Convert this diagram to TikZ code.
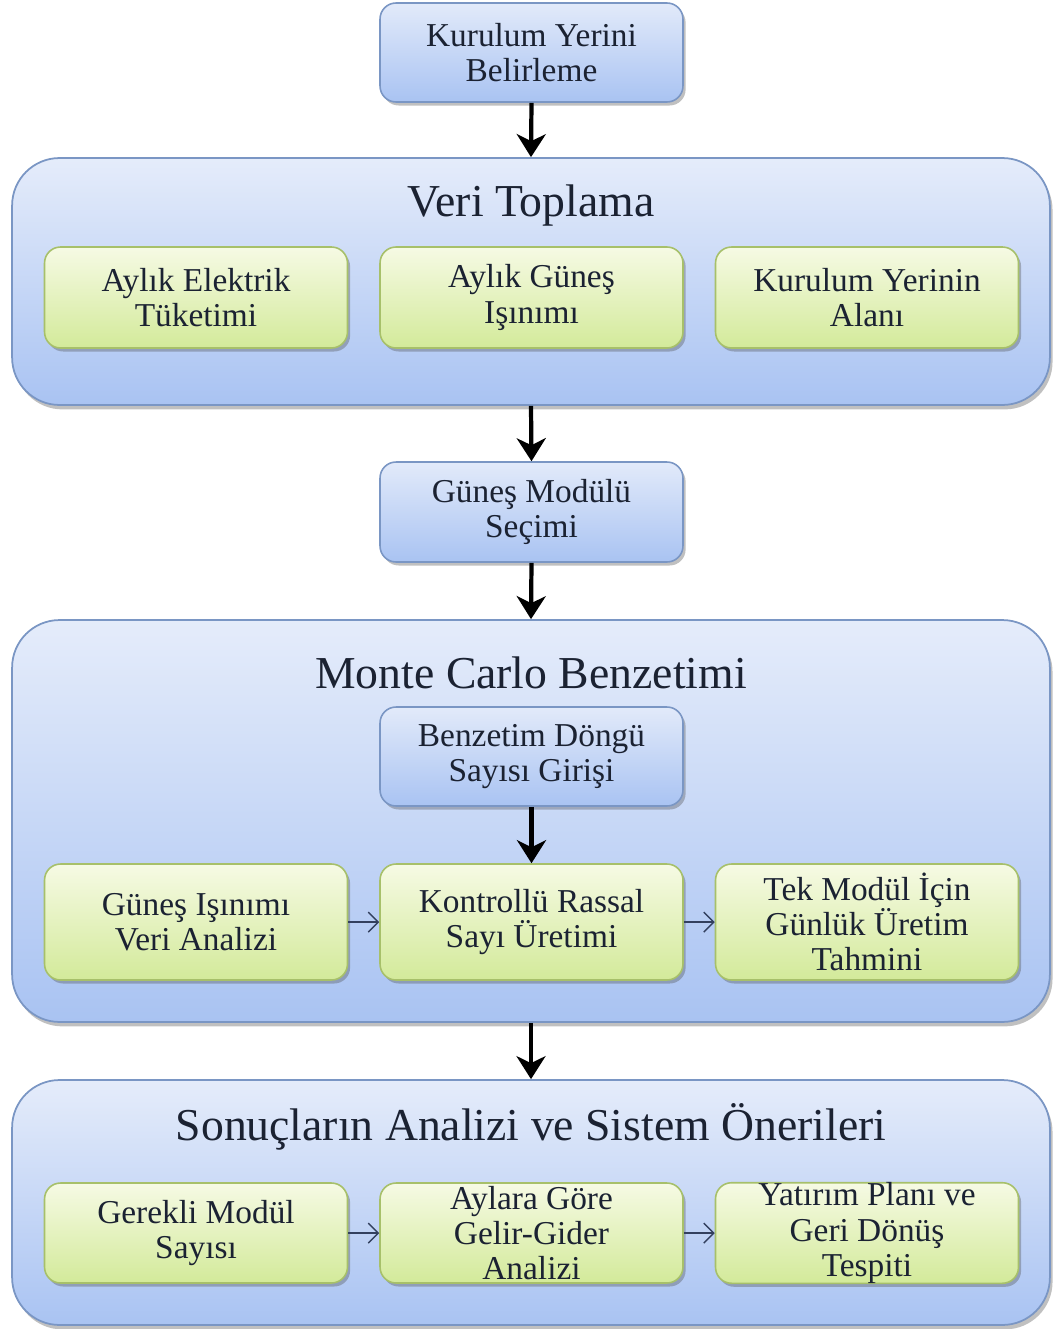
\documentclass[tikz,border=0pt]{standalone}
\usepackage{fontspec}
\setmainfont{Liberation Serif}
\usetikzlibrary{arrows.meta,shadows}
\definecolor{btop}{HTML}{E2EAFA}
\definecolor{bbot}{HTML}{A9C3F2}
\definecolor{bline}{HTML}{7A96C4}
\definecolor{gtop}{HTML}{F6FAE4}
\definecolor{gbot}{HTML}{D3EA9A}
\definecolor{gline}{HTML}{A7C06A}
\definecolor{txt}{HTML}{1B2232}
\definecolor{sarr}{HTML}{33405E}
\tikzset{
  boxbase/.style={rectangle, draw, line width=0.9pt, text=txt, align=center,
    font=\fontsize{19}{20}\selectfont, inner sep=0pt,
    drop shadow={shadow xshift=1.5pt, shadow yshift=-2pt, opacity=0.35, fill=black!70}},
  bluebox/.style={boxbase, draw=bline, top color=btop, bottom color=bbot, rounded corners=0.32cm},
  greenbox/.style={boxbase, draw=gline, top color=gtop, bottom color=gbot, rounded corners=0.32cm},
  bigbox/.style={rectangle, draw=bline, line width=1pt, top color=btop!90!white, bottom color=bbot,
    rounded corners=0.95cm, minimum width=20.76cm,
    drop shadow={shadow xshift=1.5pt, shadow yshift=-2.5pt, opacity=0.35, fill=black!70}},
  titletext/.style={text=txt, font=\fontsize{26}{28}\selectfont, inner sep=0pt},
  bigarrow/.style={line width=2.4pt, -{Stealth[length=0.46cm, width=0.58cm, inset=0.14cm]}},
  smallarrow/.style={draw=sarr, line width=0.8pt, -{Straight Barb[length=0.2cm, width=0.4cm]}},
  mw/.style={minimum width=6.06cm},
}
\begin{document}
\begin{tikzpicture}[x=0.02cm, y=-0.02cm]
\useasboundingbox (0,0) rectangle (1052,1329);
\fill[white] (0,0) rectangle (1052,1329);

% top box
\node[bluebox, mw, minimum height=1.98cm] (kur) at (531.5,52.5) {Kurulum Yerini\\Belirleme};

% Veri Toplama
\node[bigbox, minimum height=4.94cm] (vt) at (531,281.5) {};
\node[titletext] (vtt) at (531,206) {Veri Toplama};
\node[greenbox, mw, minimum height=2.02cm] (g1) at (196,297.5) {Aylık Elektrik\\Tüketimi};
\node[greenbox, mw, minimum height=2.02cm] (g2) at (531.5,297.5) {Aylık Güneş\\Işınımı};
\node[greenbox, mw, minimum height=2.02cm] (g3) at (867,297.5) {Kurulum Yerinin\\Alanı};

% Modul secimi
\node[bluebox, mw, minimum height=2.0cm] (mod) at (531.5,512) {Güneş Modülü\\Seçimi};

% Monte Carlo
\node[bigbox, minimum height=8.04cm] (mc) at (531,821) {};
\node[titletext] (mct) at (531,673) {Monte Carlo Benzetimi};
\node[bluebox, mw, minimum height=1.98cm] (bd) at (531.5,756.5) {Benzetim Döngü\\Sayısı Girişi};
\node[greenbox, mw, minimum height=2.32cm] (m1) at (196,922) {Güneş Işınımı\\Veri Analizi};
\node[greenbox, mw, minimum height=2.32cm] (m2) at (531.5,922) {Kontrollü Rassal\\Sayı Üretimi};
\node[greenbox, mw, minimum height=2.32cm] (m3) at (867,922) {Tek Modül İçin\\Günlük Üretim\\Tahmini};

% Sonuclar
\node[bigbox, minimum height=4.9cm] (so) at (531,1202.5) {};
\node[titletext] (sot) at (531,1127) {Sonuçların Analizi ve Sistem Önerileri};
\node[greenbox, mw, minimum height=2.0cm] (s1) at (196,1233) {Gerekli Modül\\Sayısı};
\node[greenbox, mw, minimum height=2.0cm] (s2) at (531.5,1233) {Aylara Göre\\Gelir-Gider\\Analizi};
\node[greenbox, mw, minimum height=2.0cm] (s3) at (867,1233) {Yatırım Planı ve\\Geri Dönüş\\Tespiti};

% big arrows
\draw[bigarrow] (kur.south) -- (vt.north);
\draw[bigarrow] (vt.south) -- (mod.north);
\draw[bigarrow] (mod.south) -- (mc.north);
\draw[bigarrow] (bd.south) -- (m2.north);
\draw[bigarrow] (mc.south) -- (so.north);

% small arrows
\draw[smallarrow] (m1.east) -- (m2.west);
\draw[smallarrow] (m2.east) -- (m3.west);
\draw[smallarrow] (s1.east) -- (s2.west);
\draw[smallarrow] (s2.east) -- (s3.west);
\end{tikzpicture}
\end{document}
